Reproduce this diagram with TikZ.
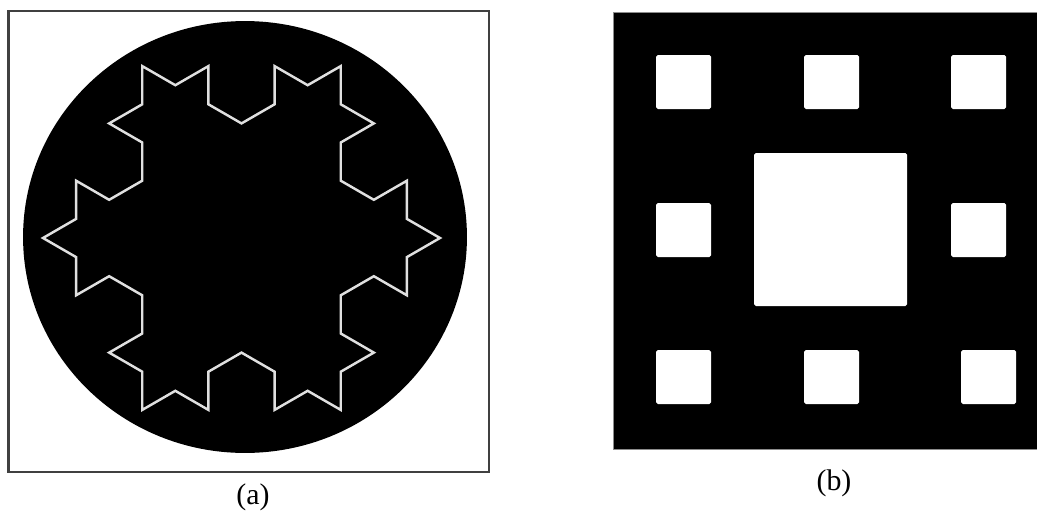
\documentclass[tikz,border=0pt]{standalone}
\usepackage{fontspec}
\setmainfont{Liberation Serif}
\usepackage{tikz}
\usetikzlibrary{positioning}

\begin{document}
\begin{tikzpicture}[x=0.02cm, y=-0.02cm,
  frame/.style={draw=black!75, line width=1.3pt},
  disc/.style={fill=black},
  flake/.style={draw=white!88!black, line width=1.4pt, line join=miter},
  carpet/.style={fill=black, draw=black!45, line width=0.4pt},
  hole/.style={fill=white, rounded corners=1pt},
  caption/.style={font=\fontsize{17}{20}\selectfont, inner sep=0pt},
]
\useasboundingbox[fill=white] (0,0) rectangle (1037,511);

% (a) disc with Koch outline
\draw[frame] (8.5,11) rectangle (489,472);
\fill[disc] (245,237) ellipse [x radius=4.44cm, y radius=4.32cm];
\draw[flake] (142.25,66.1)
  \foreach \s in {30,150,270}{
    \foreach \h in {0,-60,60,0,-60,-120,0,-60,60,0,120,60,0,-60,60,0}{
      -- ++(\s+\h:38.2)
    }
  } -- cycle;

% (b) carpet
\filldraw[carpet] (613,12) rectangle (1037,449);
\fill[hole] (754,153) rectangle (907,306);
\foreach \x/\y in {656/55, 804/55, 951/55,
                   656/203, 951/203,
                   656/350, 804/350, 961/350}
  \fill[hole] (\x,\y) rectangle ++(55,54);

% Captions
\node[caption] (capa) at (253,497) {(a)};
\node[caption] (capb) at (834,483) {(b)};
\end{tikzpicture}
\end{document}
